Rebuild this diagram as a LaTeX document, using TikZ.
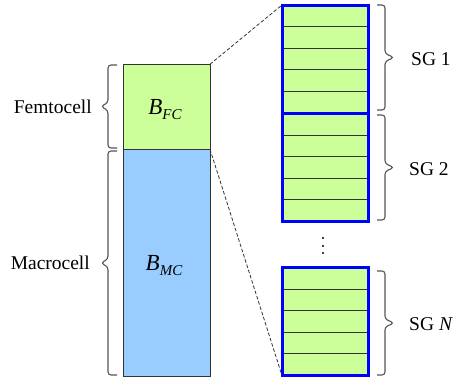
\documentclass[tikz,border=0pt]{standalone}
\usepackage{fontspec}
\setmainfont{Liberation Serif}
\usetikzlibrary{calc}
\definecolor{femtogreen}{HTML}{CCFF99}
\definecolor{macroblue}{HTML}{99CCFF}
\definecolor{edgegray}{HTML}{333333}
\definecolor{bracegray}{HTML}{555555}
\tikzset{
  cellbox/.style={draw=edgegray, line width=0.9pt, inner sep=0pt, outer sep=0pt,
    minimum width=87pt},
  sgbox/.style={fill=femtogreen, inner sep=0pt, outer sep=0pt,
    minimum width=86pt, minimum height=108pt},
  sgframe/.style={draw=blue, line width=3pt},
  rowline/.style={draw=edgegray, line width=0.9pt},
  grpbrace/.style={draw=bracegray, line width=1.1pt, rounded corners=3pt},
  link/.style={draw=edgegray, line width=0.8pt, dash pattern=on 3.5pt off 2pt},
  lbl/.style={inner sep=0pt, font=\fontsize{19.5}{22}\selectfont},
  bw/.style={font=\fontsize{23}{26}\selectfont\itshape}
}
\newcommand{\bsub}[2]{#1\raisebox{-5pt}{\fontsize{15}{17}\selectfont #2}}
% brace opening to the right: ends at x=#1, spine at #1-9, tip at #1-16
\newcommand{\westbrace}[3]{%
  \draw[grpbrace] (#1,#2) -- (#1-9,#2) -- (#1-9,{(#2+#3)/2-4})
    -- (#1-16,{(#2+#3)/2}) -- (#1-9,{(#2+#3)/2+4}) -- (#1-9,#3) -- (#1,#3);}
% brace opening to the left: ends at x=#1, spine at #1+8, tip at #1+17
\newcommand{\eastbrace}[3]{%
  \draw[grpbrace] (#1,#2) -- (#1+8,#2) -- (#1+8,{(#2+#3)/2-4})
    -- (#1+17,{(#2+#3)/2}) -- (#1+8,{(#2+#3)/2+4}) -- (#1+8,#3) -- (#1,#3);}
\begin{document}
\begin{tikzpicture}[x=1pt, y=-1pt]
  \useasboundingbox[fill=white] (0,0) rectangle (464,378);

  % bandwidth split between the two tiers
  \node[cellbox, fill=femtogreen, minimum height=85pt] (fc) at (166.5,106.75) {};
  \node[cellbox, fill=macroblue, minimum height=227pt] (mc) at (166.5,262.75) {};
  \node[bw] (bfc) at (165,110) {\bsub{B}{FC}};
  \node[bw] (bmc) at (164,266) {\bsub{B}{MC}};

  % subchannel groups, five subchannels each
  \node[sgbox] (sg1) at (325,59) {};
  \node[sgbox] (sg2) at (325,167.5) {};
  \node[sgbox] (sgn) at (325,321.5) {};
  \foreach \g in {sg1,sg2,sgn}{
    \foreach \k in {1,...,4}{
      \draw[rowline] ($(\g.north west)!\k/5!(\g.south west)$) -- ($(\g.north east)!\k/5!(\g.south east)$);
    }
    \draw[sgframe] (\g.north west) rectangle (\g.south east);
  }

  % vertical ellipsis between groups
  \node[inner sep=0pt] (dots) at (323,246) {};
  \foreach \d in {-8,0,7}{
    \fill[black] ($(dots)+(0,\d)$) circle (1.2pt);
  }

  % zoom lines from the femtocell share to the groups
  \draw[link] (fc.north east) -- (sg1.north west);
  \draw[link] (fc.south east) -- (sgn.south west);

  % braces and labels on the left
  \westbrace{117}{65}{148}
  \westbrace{117}{151}{375}
  \node[lbl, anchor=east] (femto) at (92,107) {Femtocell};
  \node[lbl, anchor=east] (macro) at (90,263) {Macrocell};

  % braces and labels on the right
  \eastbrace{377}{5}{110}
  \eastbrace{377}{115}{220}
  \eastbrace{377}{271}{375}
  \node[lbl, anchor=west] (l1) at (411,59) {SG 1};
  \node[lbl, anchor=west] (l2) at (409,169) {SG 2};
  \node[lbl, anchor=west] (ln) at (409,324) {SG \textit{N}};
\end{tikzpicture}
\end{document}
